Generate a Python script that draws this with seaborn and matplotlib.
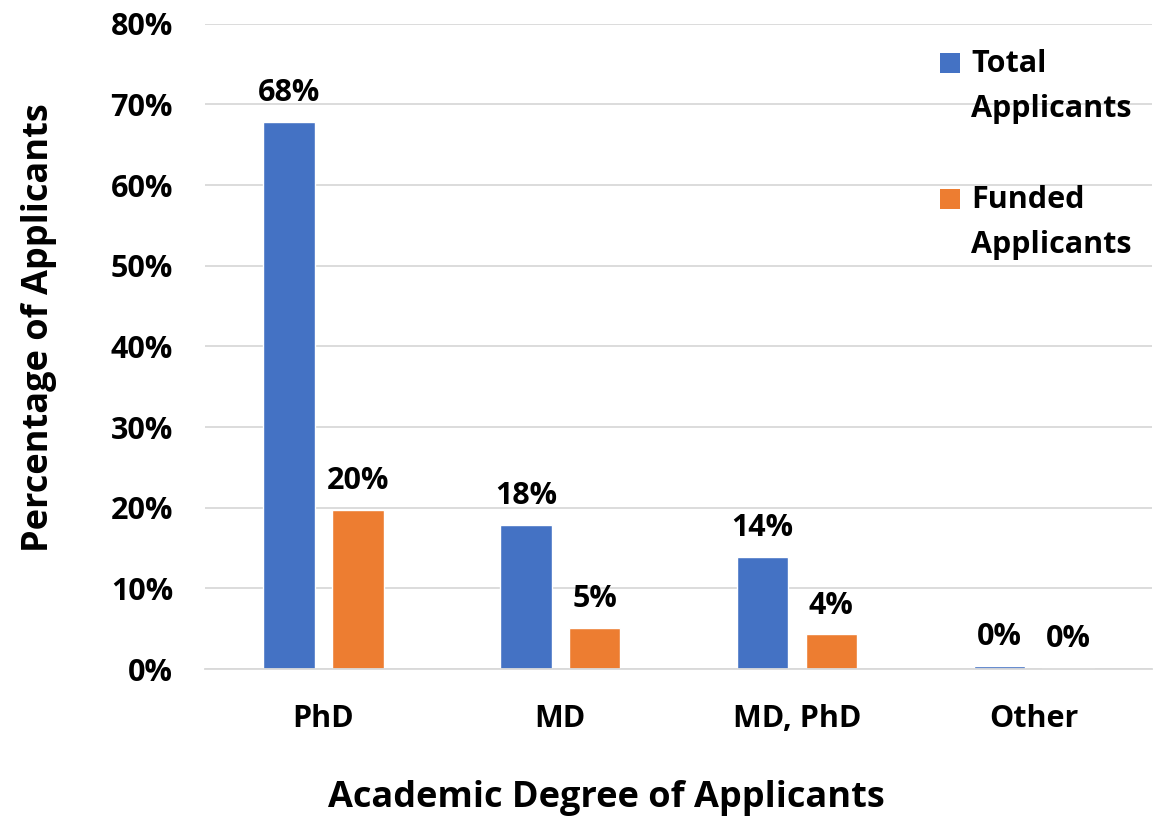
import matplotlib
matplotlib.use("Agg")
import matplotlib.pyplot as plt
import seaborn as sns
import pandas as pd
import numpy as np
from matplotlib.patches import Rectangle
from matplotlib.ticker import FixedLocator, PercentFormatter

categories = ["PhD", "MD", "MD, PhD", "Other"]
total_vals = [67.8, 17.9, 13.9, 0.4]
funded_vals = [19.7, 5.1, 4.3, 0.2]
total_labels = ["68%", "18%", "14%", "0%"]
funded_labels = ["20%", "5%", "4%", "0%"]
series = ["Total\nApplicants", "Funded\nApplicants"]
colors = ["#4472C4", "#ED7D31"]

df = pd.DataFrame({
    "Degree": categories * 2,
    "Value": total_vals + funded_vals,
    "Series": [series[0]] * 4 + [series[1]] * 4,
})

sns.set_style("white")
plt.rcParams["font.family"] = ["Open Sans", "DejaVu Sans"]
plt.rcParams["font.weight"] = "bold"
for k in ["text.color", "axes.labelcolor", "xtick.color", "ytick.color"]:
    plt.rcParams[k] = "black"

FS = 22

fig = plt.figure(figsize=(11.65, 8.18), dpi=100)
ax = fig.add_axes([0.176, 0.182, 0.813, 0.789])

sns.barplot(data=df, x="Degree", y="Value", hue="Series", palette=colors,
            ax=ax, width=0.58, gap=0.25, legend=False, saturation=1)

for cont, labs in zip(ax.containers, [total_labels, funded_labels]):
    ax.bar_label(cont, labels=labs, padding=10, fontsize=FS, fontweight="bold",
                 color="black")

ax.set_ylim(0, 80)
ax.set_yticks(np.arange(0, 81, 10))
ax.yaxis.set_major_formatter(PercentFormatter(decimals=0))
ax.set_xlim(-0.5, 3.5)
ax.grid(axis="y", color="#d9d9d9", linewidth=1.3)
ax.set_axisbelow(True)
for s in ["top", "right", "left"]:
    ax.spines[s].set_visible(False)
ax.spines["bottom"].set_color("#d9d9d9")
ax.spines["bottom"].set_linewidth(1.3)
ax.xaxis.set_minor_locator(FixedLocator([-0.5, 0.5, 1.5, 2.5, 3.5]))
ax.tick_params(axis="x", which="minor", length=10, color="#d9d9d9", width=1.3)
ax.tick_params(axis="x", which="major", length=0, pad=25, labelsize=FS,
               labelcolor="black")
ax.tick_params(axis="y", length=0, pad=23, labelsize=FS, labelcolor="black")
for t in ax.get_xticklabels() + ax.get_yticklabels():
    t.set_fontweight("bold")

ax.set_xlabel("Academic Degree of Applicants", fontsize=26, fontweight="bold",
              color="black")
ax.set_ylabel("Percentage of Applicants", fontsize=26, fontweight="bold",
              color="black")
ax.xaxis.set_label_coords((606 - 205) / 947.0, -(780 - 669) / 645.0)
ax.yaxis.set_label_coords(-(205 - 57) / 947.0, 1 - (328 - 24) / 645.0)

# legend drawn manually (square + two-line label), in axes coordinates
leg_x = (940 - 205) / 947.0
for i, (c, s) in enumerate(zip(colors, series)):
    top_px = 53 + i * 136
    y_sq = 1 - (top_px - 24) / 645.0
    ax.add_patch(Rectangle((leg_x, y_sq - 20 / 645.0), 20 / 947.0, 20 / 645.0,
                           transform=ax.transAxes, facecolor=c, edgecolor="none",
                           clip_on=False))
    ax.text(leg_x + 31 / 947.0, y_sq + 4 / 645.0, s, transform=ax.transAxes,
            ha="left", va="top", fontsize=FS, fontweight="bold",
            linespacing=1.65, color="black")

fig.savefig("out.png", dpi=100)
